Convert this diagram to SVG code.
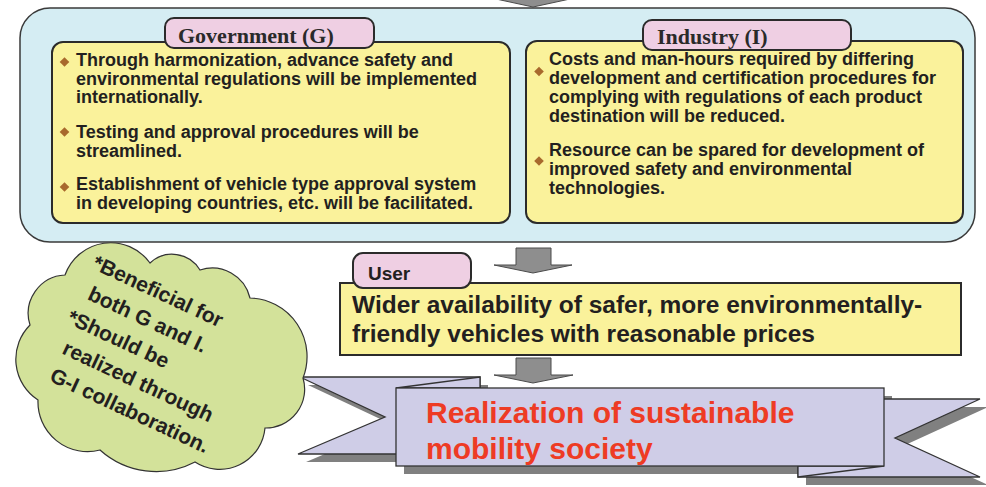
<svg xmlns="http://www.w3.org/2000/svg" width="986" height="487" viewBox="0 0 986 487">
<style>
.panel{fill:#d5edf3;stroke:#3a3a3a;stroke-width:1.5}
.box{fill:#faf29b;stroke:#2b2b2b;stroke-width:2}
.tab{fill:#efcfe3;stroke:#2b2b2b;stroke-width:2}
.tabt{font-family:"Liberation Serif","Times New Roman",serif;font-weight:bold;font-size:22px;fill:#2a2a2a}
.body{font-family:"Liberation Sans",Arial,sans-serif;font-weight:bold;font-size:18px;fill:#231f20}
.usert{font-family:"Liberation Sans",Arial,sans-serif;font-weight:bold;font-size:19px;fill:#231f20}
.big{font-family:"Liberation Sans",Arial,sans-serif;font-weight:bold;font-size:24.5px;fill:#231f20}
.dia{fill:#a8692d}
.arrow{fill:#8e8e8e;stroke:#4a4a4a;stroke-width:1}
.rib{fill:#cfcde7;stroke:#333;stroke-width:1.3}
.shadow{fill:#808080}
.red{font-family:"Liberation Sans",Arial,sans-serif;font-weight:bold;font-size:30px;fill:#ee3b24}
.cloud{fill:#d3e29a;stroke:#333;stroke-width:1.2}
.cloudt{font-family:"Liberation Sans",Arial,sans-serif;font-weight:bold;font-size:21px;fill:#231f20}
</style>
<defs>
<path id="dm" class="dia" d="M0,-4.7 L4.8,0 L0,4.7 L-4.8,0 Z"/>
</defs>

<g id="connectors">
<path class="arrow" d="M496,-1 L570,-1 L533,7 Z"/>
<path class="arrow" d="M516,248 H551 V265 H572 L533,273 L494,265 H516 Z"/>
<path class="arrow" d="M516,358 H551 V375 H573 L533,383 L494,375 H516 Z"/>
</g>

<g id="panel">
<rect class="panel" x="20" y="8" width="955" height="234" rx="30" ry="30"/>
</g>

<g id="government">
<rect class="box" x="52" y="42" width="458" height="181" rx="11" ry="11"/>
<rect class="tab" x="165" y="18" width="209" height="30" rx="9" ry="9"/>
<text class="tabt" x="178" y="43">Government (G)</text>
<use href="#dm" x="64.5" y="62"/>
<use href="#dm" x="64.5" y="132"/>
<use href="#dm" x="64.5" y="187"/>
<text class="body">
<tspan x="76" y="66">Through harmonization, advance safety and</tspan>
<tspan x="76" y="84.5">environmental regulations will be implemented</tspan>
<tspan x="76" y="103">internationally.</tspan>
<tspan x="76" y="137.5">Testing and approval procedures will be</tspan>
<tspan x="76" y="156.5">streamlined.</tspan>
<tspan x="76" y="189.5">Establishment of vehicle type approval system</tspan>
<tspan x="76" y="208.5">in developing countries, etc. will be facilitated.</tspan>
</text>
</g>

<g id="industry">
<rect class="box" x="526" y="41" width="437" height="182" rx="11" ry="11"/>
<rect class="tab" x="643" y="20" width="208" height="30" rx="9" ry="9"/>
<text class="tabt" x="657" y="44">Industry (I)</text>
<use href="#dm" x="539" y="71.5"/>
<use href="#dm" x="539" y="161"/>
<text class="body">
<tspan x="549" y="65">Costs and man-hours required by differing</tspan>
<tspan x="549" y="83.5">development and certification procedures for</tspan>
<tspan x="549" y="102.5">complying with regulations of each product</tspan>
<tspan x="549" y="121.5">destination will be reduced.</tspan>
<tspan x="549" y="155.5">Resource can be spared for development of</tspan>
<tspan x="549" y="175">improved safety and environmental</tspan>
<tspan x="549" y="194">technologies.</tspan>
</text>
</g>

<g id="user">
<rect class="box" x="340" y="283" width="621" height="72" rx="0" ry="0"/>
<rect class="tab" x="353" y="253" width="118" height="35" rx="10" ry="10"/>
<text class="usert" x="368" y="279.5">User</text>
<text class="big">
<tspan x="352" y="313">Wider availability of safer, more environmentally-</tspan>
<tspan x="352" y="342">friendly vehicles with reasonable prices</tspan>
</text>
</g>

<g id="goal">
<g class="shadow" transform="translate(8,8)">
<path d="M300,377 L480,377 L480,454 L298,454 L385,417 Z"/>
<path d="M798,399 L980,399 L895,438 L980,477 L798,477 Z"/>
<rect x="396" y="388" width="488" height="78"/>
</g>
<path class="rib" d="M300,377 L480,377 L480,454 L298,454 L385,417 Z"/>
<path class="rib" d="M798,399 L980,399 L895,438 L980,477 L798,477 Z"/>
<path class="rib" d="M396,388 L480,377 L480,388 Z"/>
<path class="rib" d="M798,466 L884,466 L798,477 Z"/>
<rect class="rib" x="396" y="388" width="488" height="78"/>
<text class="red">
<tspan x="426" y="423">Realization of sustainable</tspan>
<tspan x="426" y="459">mobility society</tspan>
</text>
</g>

<g id="note">
<path class="cloud" d="M65,275 A48.4,48.4 0 0 1 150,263 A32.5,32.5 0 0 1 200,270 A38.8,38.8 0 0 1 250,298 A58.6,58.6 0 0 1 303,378 A38.8,38.8 0 0 1 265,428 A45.4,45.4 0 0 1 195,462 A84,84 0 0 1 100,450 A49.6,49.6 0 0 1 38,400 A48.5,48.5 0 0 1 30,325 A38.5,38.5 0 0 1 65,275 Z"/>
<text class="cloudt" transform="translate(91,268) rotate(25)">
<tspan x="0" y="0">*Beneficial for</tspan>
<tspan x="9" y="30">both G and I.</tspan>
<tspan x="0" y="60">*Should be</tspan>
<tspan x="9" y="90">realized through</tspan>
<tspan x="9" y="120">G-I collaboration.</tspan>
</text>
</g>
</svg>
